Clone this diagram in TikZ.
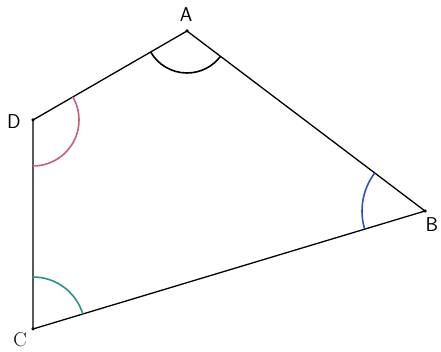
\documentclass[tikz,border=0pt]{standalone}
\usetikzlibrary{angles}
\definecolor{arcpink}{RGB}{200,96,122}
\definecolor{arcblue}{RGB}{52,76,190}
\definecolor{arcteal}{RGB}{40,150,135}
\begin{document}
\begin{tikzpicture}[x=1pt,y=1pt,
  side/.style={draw=black,line width=1.3pt},
  vdot/.style={circle,fill=black,inner sep=0pt,minimum size=3.5pt},
  vlabel/.style={font=\fontsize{20}{24}\selectfont\sffamily},
  arcmark/.style={draw,line width=1.6pt}]
\useasboundingbox (0,0) rectangle (441,352);
\coordinate (A) at (187,321);
\coordinate (B) at (425,141);
\coordinate (C) at (33,23);
\coordinate (D) at (33,232);
\draw[side] (A) -- (B) -- (C) -- (D) -- cycle;
\node[vdot] (dA) at (A) {};
\node[vdot] (dB) at (B) {};
\node[vdot] (dC) at (C) {};
\node[vdot] (dD) at (D) {};
\pic[arcmark,draw=black,angle radius=42pt] {angle=D--A--B};
\pic[arcmark,draw=arcblue,angle radius=63pt] {angle=A--B--C};
\pic[arcmark,draw=arcteal,angle radius=52pt] {angle=B--C--D};
\pic[arcmark,draw=arcpink,angle radius=46pt] {angle=C--D--A};
\node[vlabel] (lA) at (186,337) {A};
\node[vlabel] (lB) at (432,127) {B};
\node[font=\fontsize{20}{24}\selectfont] (lC) at (20,12) {C};
\node[vlabel] (lD) at (14,230) {D};
\end{tikzpicture}
\end{document}
